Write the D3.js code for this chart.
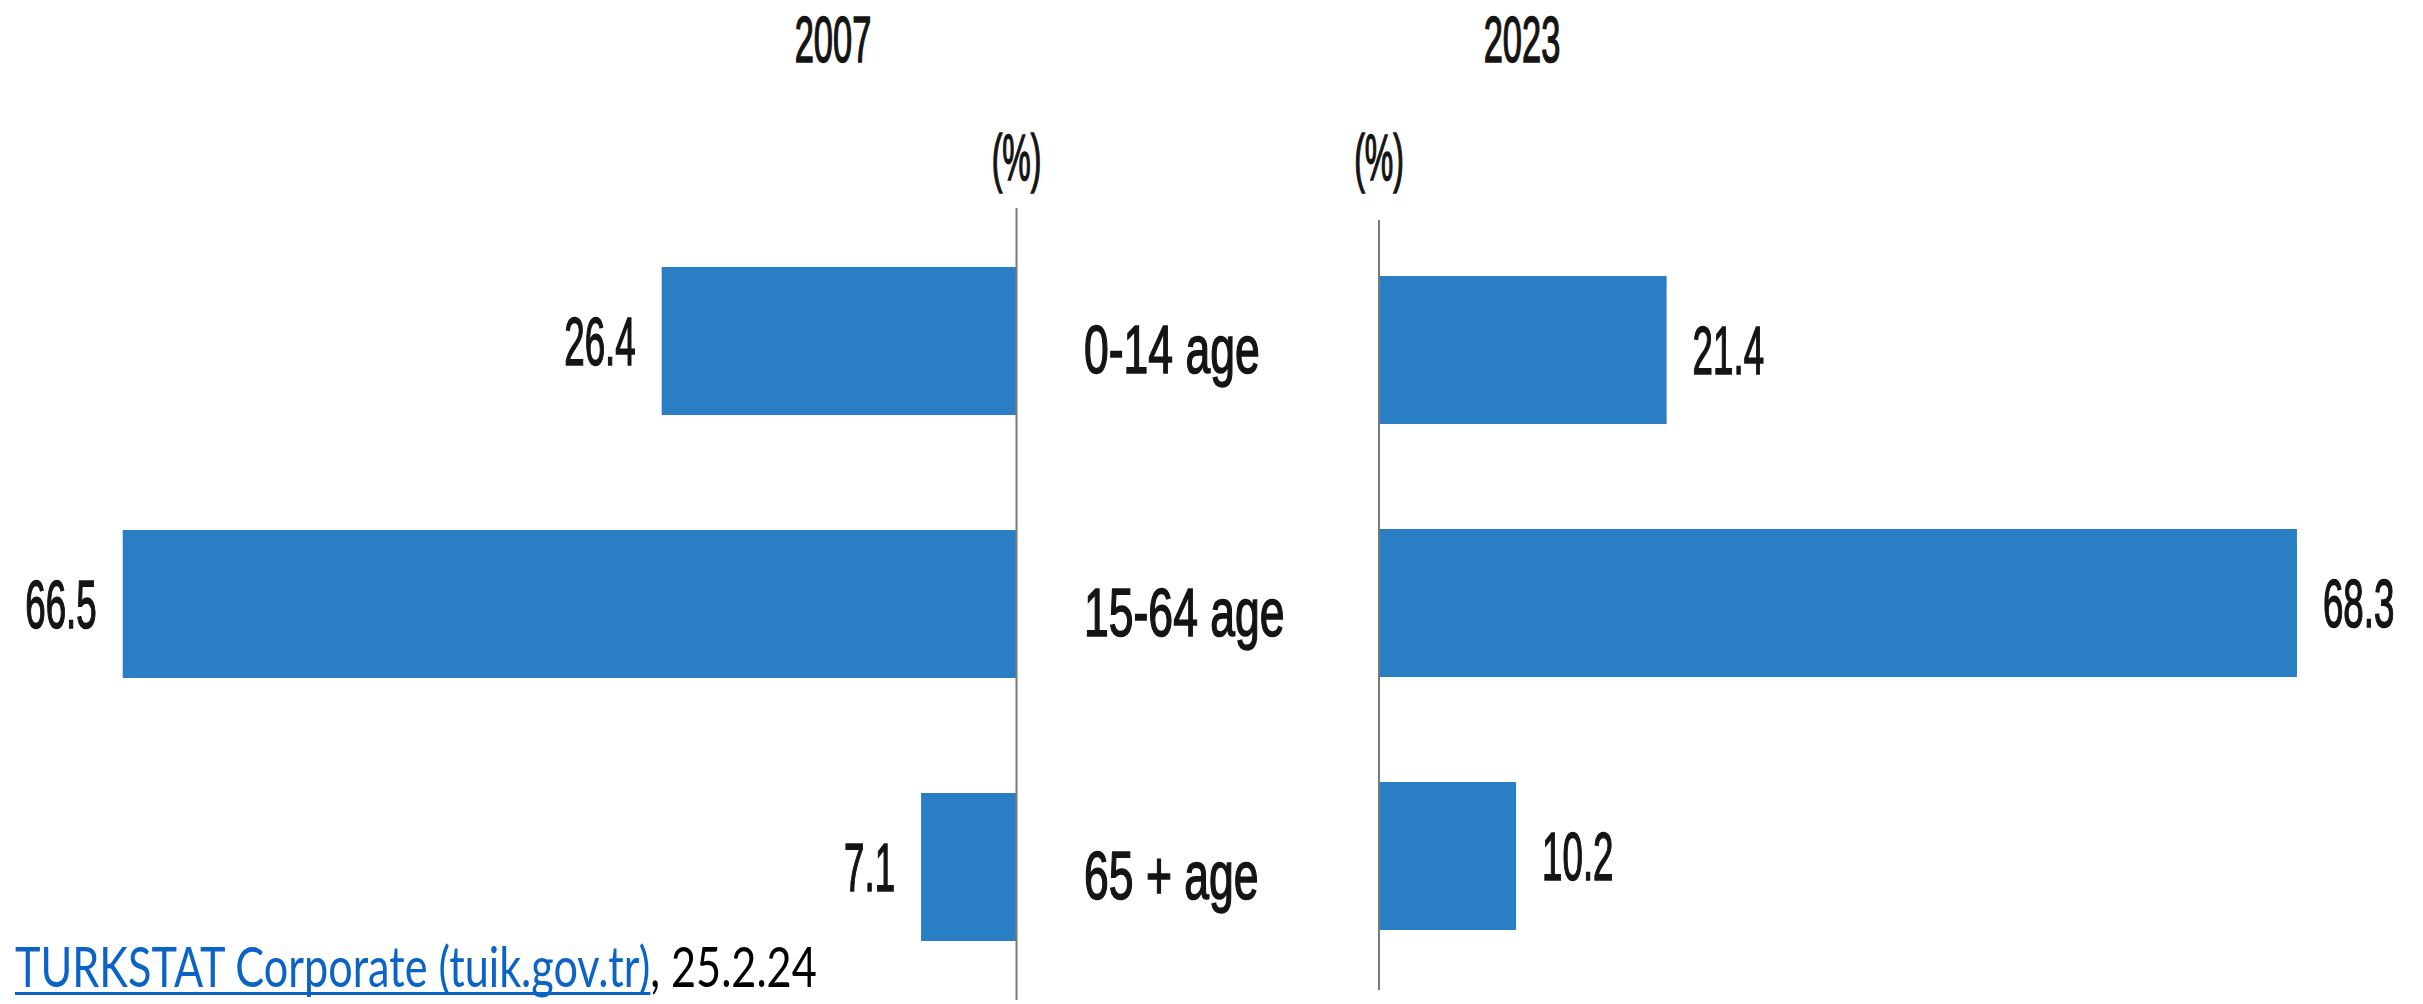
<!DOCTYPE html>
<html>
<head>
<meta charset="utf-8">
<script src="https://cdn.jsdelivr.net/npm/d3@7"></script>
<style>
  html, body { margin: 0; padding: 0; background: #fff; }
  svg { display: block; }
</style>
</head>
<body>
<svg id="chart" width="2423" height="1004"></svg>
<script>
// Population by age group, share of total (%)
const ageGroups = ["0-14 age", "15-64 age", "65 + age"];
const years = ["2007", "2023"];
const share2007 = [26.4, 66.5, 7.1];
const share2023 = [21.4, 68.3, 10.2];
const unitLabel = "(%)";
const sourceLink = "TURKSTAT Corporate (tuik.gov.tr)";
const sourceDate = ", 25.2.24";

const W = 2423, H = 1004;
const svg = d3.select("#chart");

const barColor = "#2a7ec3";
const axisColor = "#7a7a7a";
const textColor = "#141414";
const narrowFont = "'Liberation Sans', Arial, sans-serif";

// pixels per percentage point, shared by both panels
const unit = 13.44;
const maxVal = 70;

// left panel grows leftwards from its baseline, right panel rightwards
const xLeft = d3.scaleLinear().domain([0, maxVal]).range([1016.5, 1016.5 - maxVal * unit]);
const xRight = d3.scaleLinear().domain([0, maxVal]).range([1379, 1379 + maxVal * unit]);

const yLeft = d3.scalePoint().domain(ageGroups).range([341, 867]);
const yRight = d3.scalePoint().domain(ageGroups).range([350, 856]);
const barH = 148;

// condensed text helper: draws a horizontally squeezed, slightly heavy label
function narrowText(g, x, y, str, size, sx, anchor) {
  return g.append("text")
    .attr("transform", `translate(${x},${y}) scale(${sx},1)`)
    .attr("text-anchor", anchor)
    .attr("font-family", narrowFont)
    .attr("font-size", size)
    .attr("fill", textColor)
    .attr("stroke", textColor)
    .attr("stroke-width", 1.6)
    .attr("paint-order", "stroke")
    .text(str);
}

const panels = [
  { year: years[0], values: share2007, x: xLeft, y: yLeft, dir: -1, yearX: 833, axisTop: 208, axisBottom: 1000 },
  { year: years[1], values: share2023, x: xRight, y: yRight, dir: 1, yearX: 1522, axisTop: 220, axisBottom: 990 }
];

panels.forEach(p => {
  const g = svg.append("g").attr("class", "panel-" + p.year);
  const x0 = p.x(0);

  // bars
  g.selectAll("rect.bar")
    .data(ageGroups.map((a, i) => ({ group: a, value: p.values[i] })))
    .join("rect")
    .attr("class", "bar")
    .attr("x", d => Math.min(p.x(0), p.x(d.value)))
    .attr("width", d => Math.abs(p.x(d.value) - p.x(0)))
    .attr("y", d => p.y(d.group) - barH / 2)
    .attr("height", barH)
    .attr("fill", barColor);

  // baseline axis
  g.append("line")
    .attr("x1", x0).attr("x2", x0)
    .attr("y1", p.axisTop).attr("y2", p.axisBottom)
    .attr("stroke", axisColor)
    .attr("stroke-width", 2);

  // value labels beside each bar end
  ageGroups.forEach((a, i) => {
    const v = p.values[i];
    const xe = p.x(v) + p.dir * 26;
    narrowText(g, xe, p.y(a) + 24, v.toFixed(1), 68, 0.54, p.dir < 0 ? "end" : "start");
  });

  // year heading and unit marker
  narrowText(g, p.yearX, 62, p.year, 65, 0.53, "middle");
  narrowText(g, x0, 180, unitLabel, 64, 0.5, "middle");
});

// age-group labels between the panels
const cats = svg.append("g").attr("class", "categories");
ageGroups.forEach(a => {
  narrowText(cats, 1084, yLeft(a) + 32, a, 68, 0.655, "start");
});

// source line
const src = svg.append("g").attr("class", "source");
const srcText = src.append("text")
  .attr("x", 0).attr("y", 0)
  .attr("font-family", "Lato, 'Open Sans', sans-serif")
  .attr("font-size", 56);
const linkSpan = srcText.append("tspan").attr("fill", "#0b63c5").text(sourceLink);
srcText.append("tspan").attr("fill", "#000").text(sourceDate);

const fullW = srcText.node().getComputedTextLength();
const linkW = linkSpan.node().getComputedTextLength();
const targetW = 802;
const sx = targetW / fullW;
src.attr("transform", `translate(15,987) scale(${sx},1)`);
src.append("rect")
  .attr("x", 0).attr("y", 5)
  .attr("width", linkW)
  .attr("height", 3)
  .attr("fill", "#0b63c5");
</script>
</body>
</html>
